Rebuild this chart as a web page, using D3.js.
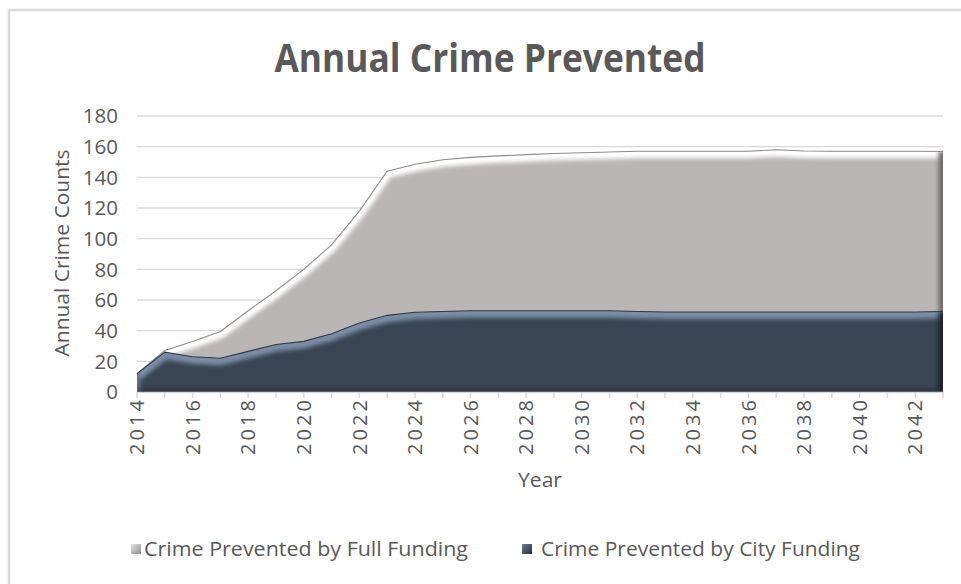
<!DOCTYPE html>
<html>
<head>
<meta charset="utf-8">
<script src="https://cdn.jsdelivr.net/npm/d3@7"></script>
<style>
  html, body { margin: 0; padding: 0; background: #fff; }
  svg { display: block; }
  text { font-family: "Open Sans", "DejaVu Sans", sans-serif; fill: #595959; }
</style>
</head>
<body>
<svg id="chart" width="961" height="584"></svg>
<script>
// ---------- DATA ----------
const years = d3.range(2014, 2044);
const fullFunding = [12, 27, 33, 39.5, 53, 66, 80, 96, 118, 144, 148.5, 151.5, 153, 154, 154.8, 155.5, 156, 156.5, 157, 157, 157, 157, 157, 158, 157.2, 157, 157, 157, 157, 156.8];
const cityFunding = [12, 26, 23, 22, 26.5, 31, 33, 38, 45, 50, 52, 52.5, 53, 53, 53, 53, 53, 53, 52.5, 52.2, 52.2, 52.2, 52.2, 52.2, 52.2, 52.2, 52.2, 52.2, 52.2, 52.5];
const yTicks = [0, 20, 40, 60, 80, 100, 120, 140, 160, 180];
const xTickLabels = d3.range(2014, 2043, 2);
const seriesNames = ["Crime Prevented by Full Funding", "Crime Prevented by City Funding"];
const titleText = "Annual Crime Prevented";

// ---------- SETUP ----------
const svg = d3.select("#chart");
const W = 961, H = 584;
const x = d3.scaleLinear().domain([2014, 2043]).range([137, 943]);
const y = d3.scaleLinear().domain([0, 180]).range([392, 116]);

const defs = svg.append("defs");
const blur = defs.append("filter").attr("id", "blur")
  .attr("filterUnits", "userSpaceOnUse")
  .attr("x", 0).attr("y", 0).attr("width", W).attr("height", H);
blur.append("feGaussianBlur").attr("stdDeviation", 2);

// legend gradients
function legendGrad(id, c1, c2) {
  const g = defs.append("linearGradient").attr("id", id)
    .attr("x1", 0).attr("y1", 0).attr("x2", 1).attr("y2", 1);
  g.append("stop").attr("offset", "0%").attr("stop-color", c1);
  g.append("stop").attr("offset", "100%").attr("stop-color", c2);
}
legendGrad("lg1", "#e6e4e4", "#8f8c8c");
legendGrad("lg2", "#6d7e92", "#262e38");

// chart border
svg.append("rect")
  .attr("x", 9).attr("y", 10).attr("width", W + 20).attr("height", H + 20)
  .attr("fill", "#fff").attr("stroke", "#d9d9d9").attr("stroke-width", 2.5);

// title
svg.append("text")
  .attr("x", 490).attr("y", 72)
  .attr("text-anchor", "middle")
  .attr("font-size", 40).attr("font-weight", 700)
  .attr("textLength", 431).attr("lengthAdjust", "spacingAndGlyphs")
  .style("fill", "#595959")
  .text(titleText);

// gridlines
svg.append("g").selectAll("line")
  .data(yTicks.filter(d => d > 0))
  .join("line")
  .attr("x1", x(2014)).attr("x2", x(2043))
  .attr("y1", d => y(d)).attr("y2", d => y(d))
  .attr("stroke", "#d9d9d9").attr("stroke-width", 1.3);

// y tick labels
svg.append("g").selectAll("text")
  .data(yTicks)
  .join("text")
  .attr("x", 118).attr("y", d => y(d))
  .attr("dy", "0.36em")
  .attr("text-anchor", "end")
  .attr("font-size", 20.5)
  .text(d => d);

// areas
const areaFull = d3.area().x((d, i) => x(years[i])).y0(y(0)).y1(d => y(d)).curve(d3.curveLinear);
const lineTop = d3.line().x((d, i) => x(years[i])).y(d => y(d)).curve(d3.curveLinear);

function drawBevelArea(values, id, fill, hi, outline, shade) {
  const d = areaFull(values);
  defs.append("clipPath").attr("id", "clip-" + id).append("path").attr("d", d);
  svg.append("path").attr("d", d).attr("fill", fill);
  const g = svg.append("g").attr("clip-path", "url(#clip-" + id + ")");
  // highlight along top edge
  g.append("path").attr("d", lineTop(values))
    .attr("transform", "translate(0,1.5)")
    .attr("fill", "none").attr("stroke", hi).attr("stroke-width", 11)
    .attr("filter", "url(#blur)");
  // left edge light
  g.append("line")
    .attr("x1", x(2014)).attr("x2", x(2014)).attr("y1", y(0)).attr("y2", y(values[0]))
    .attr("stroke", hi).attr("stroke-width", 8).attr("filter", "url(#blur)").attr("opacity", 0.6);
  // right edge shadow
  g.append("line")
    .attr("x1", x(2043)).attr("x2", x(2043)).attr("y1", y(0)).attr("y2", y(values[values.length - 1]))
    .attr("stroke", shade).attr("stroke-width", 9).attr("filter", "url(#blur)");
  // bottom shadow
  g.append("line")
    .attr("x1", x(2014)).attr("x2", x(2043)).attr("y1", y(0)).attr("y2", y(0))
    .attr("stroke", shade).attr("stroke-width", 6).attr("filter", "url(#blur)").attr("opacity", 0.5);
  // outline
  svg.append("path").attr("d", lineTop(values))
    .attr("fill", "none").attr("stroke", outline).attr("stroke-width", 1.1)
    .attr("opacity", 0.9);
}

drawBevelArea(fullFunding, "full", "#bab6b6", "#ffffff", "#858383", "#6e6b6b");
drawBevelArea(cityFunding, "city", "#394553", "#7b8da5", "#2a333e", "#1c232c");

// x axis line and ticks
svg.append("line")
  .attr("x1", x(2014)).attr("x2", x(2043))
  .attr("y1", y(0) + 0.5).attr("y2", y(0) + 0.5)
  .attr("stroke", "#d9d9d9").attr("stroke-width", 1.5);
svg.append("g").selectAll("line")
  .data(years)
  .join("line")
  .attr("x1", d => x(d)).attr("x2", d => x(d))
  .attr("y1", y(0)).attr("y2", y(0) + 6)
  .attr("stroke", "#d9d9d9").attr("stroke-width", 1.5);

// x tick labels (rotated)
svg.append("g").selectAll("text")
  .data(xTickLabels)
  .join("text")
  .attr("transform", d => `translate(${x(d)},400) rotate(-90)`)
  .attr("dy", "0.36em")
  .attr("text-anchor", "end")
  .attr("font-size", 20)
  .attr("textLength", 55).attr("lengthAdjust", "spacing")
  .text(d => d);

// axis titles
svg.append("text")
  .attr("transform", "translate(62,253) rotate(-90)")
  .attr("dy", "0.36em")
  .attr("text-anchor", "middle")
  .attr("font-size", 20)
  .attr("textLength", 207).attr("lengthAdjust", "spacingAndGlyphs")
  .text("Annual Crime Counts");

svg.append("text")
  .attr("x", 540).attr("y", 487)
  .attr("text-anchor", "middle")
  .attr("font-size", 20)
  .attr("textLength", 44).attr("lengthAdjust", "spacingAndGlyphs")
  .text("Year");

// legend
const legend = [
  { name: seriesNames[0], mx: 131, tx: 144, tl: 324, grad: "lg1" },
  { name: seriesNames[1], mx: 522, tx: 541, tl: 319, grad: "lg2" }
];
const lg = svg.append("g").selectAll("g").data(legend).join("g");
lg.append("rect")
  .attr("x", d => d.mx).attr("y", 544).attr("width", 10).attr("height", 10)
  .attr("fill", d => `url(#${d.grad})`);
lg.append("text")
  .attr("x", d => d.tx).attr("y", 549)
  .attr("dy", "0.36em")
  .attr("font-size", 20)
  .attr("textLength", d => d.tl).attr("lengthAdjust", "spacingAndGlyphs")
  .text(d => d.name);
</script>
</body>
</html>
